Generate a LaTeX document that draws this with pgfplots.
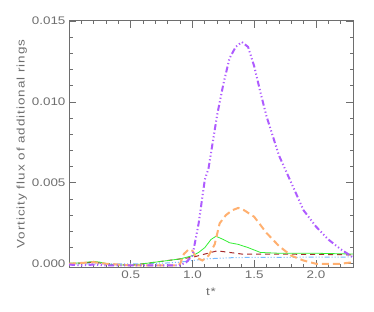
\documentclass[border=0pt]{standalone}
\usepackage{pgfplots}
\pgfplotsset{compat=1.18}
\usepackage{fontspec}
\setmainfont{Liberation Sans}[FakeStretch=1.22]
\definecolor{axgray}{HTML}{6E6E6E}
\definecolor{cpurple}{HTML}{AE5CFF}
\definecolor{corange}{HTML}{FFB070}
\definecolor{cgreen}{HTML}{33EE33}
\definecolor{cred}{HTML}{A52A2A}
\definecolor{cblue}{HTML}{77BBFF}
\begin{document}
\begin{tikzpicture}
\begin{axis}[
  scale only axis, width=284pt, height=246pt,
  xmin=0, xmax=2.3, ymin=-0.0002, ymax=0.015,
  axis line style={axgray, line width=1pt},
  every tick/.style={axgray, line width=0.8pt},
  tick align=inside,
  major tick length=7pt, minor tick length=3.5pt,
  xtick={0.5,1.0,1.5,2.0}, minor xtick={0.1,0.2,...,2.3},
  ytick={0,0.005,0.010,0.015}, minor ytick={0.001,0.002,0.003,0.004,0.006,0.007,0.008,0.009,0.011,0.012,0.013,0.014},
  scaled y ticks=false,
  xticklabel style={/pgf/number format/.cd, fixed, fixed zerofill, precision=1, assume math mode=true},
  yticklabel style={/pgf/number format/.cd, fixed, fixed zerofill, precision=3, assume math mode=true},
  tick label style={font=\fontsize{11}{13}\selectfont, text=axgray},
  label style={font=\fontsize{11}{13}\selectfont\addfontfeature{LetterSpace=9}, text=axgray},
  xlabel={t*}, ylabel={Vorticity flux of additional rings},
  xlabel style={yshift=-3pt},
  ylabel style={yshift=-2pt},
]
\addplot[cblue, line width=1pt, dash pattern=on 5pt off 2pt on 1pt off 2pt on 1pt off 2pt on 1pt off 2pt] coordinates {
(0,0.0) (0.3,0.0) (0.6,0.0) (0.8,0.00005) (0.9,0.0001) (1.0,0.0002) (1.1,0.0003) (1.3,0.00037) (1.5,0.0004) (1.8,0.0004) (2.3,0.00042)};
\addplot[cred, line width=1pt, dash pattern=on 5pt off 4pt] coordinates {
(0,0.0) (0.2,0.0001) (0.3,0.0) (0.5,-0.0001) (0.6,0.0) (0.7,0.0001) (0.8,0.0002) (0.9,0.0003) (1.0,0.0004) (1.1,0.0006) (1.2,0.0008) (1.3,0.0007) (1.4,0.0006) (1.6,0.0006) (2.0,0.00058) (2.3,0.00055)};
\addplot[cgreen, line width=0.8pt] coordinates {
(0,0.00005) (0.1,0.00005) (0.2,0.00015) (0.25,0.0001) (0.35,-0.00005) (0.5,-0.0001) (0.6,0.0) (0.7,0.0001) (0.8,0.0002) (0.9,0.0003) (1.0,0.0005) (1.05,0.0007) (1.1,0.001) (1.15,0.0015) (1.19,0.0017) (1.25,0.0015) (1.3,0.0013) (1.37,0.0012) (1.45,0.001) (1.55,0.0007) (1.7,0.00065) (2.0,0.00065) (2.3,0.0006)};
\addplot[corange, line width=2pt, dash pattern=on 7pt off 4pt] coordinates {
(0,0.0) (0.1,0.00005) (0.2,0.0001) (0.3,0.0) (0.5,-0.0001) (0.7,-0.0001) (0.88,-0.0001) (0.9,0.0) (0.93,0.0006) (0.97,0.0009) (1.0,0.0008) (1.03,0.0004) (1.08,0.0002) (1.13,0.0005) (1.18,0.0012) (1.22,0.0025) (1.27,0.0030) (1.32,0.0033) (1.37,0.00345) (1.42,0.0033) (1.5,0.0029) (1.6,0.0019) (1.7,0.0011) (1.8,0.0005) (1.9,0.0002) (2.0,0.0) (2.1,0.0) (2.2,0.0) (2.3,0.0001)};
\addplot[cpurple, line width=2pt, dash pattern=on 6pt off 2.5pt on 1.2pt off 2.5pt on 1.2pt off 2.5pt on 1.2pt off 2.5pt] coordinates {
(0,-0.00005) (0.1,-0.0001) (0.2,-0.00005) (0.3,-0.0001) (0.5,-0.0001) (0.7,-0.0001) (0.9,-0.0001) (0.95,0.0001) (1.0,0.0005) (1.05,0.0025) (1.1,0.0052) (1.13,0.0059) (1.2,0.0092) (1.25,0.0111) (1.3,0.0127) (1.35,0.0134) (1.4,0.0137) (1.45,0.0134) (1.5,0.0122) (1.55,0.0106) (1.6,0.0091) (1.7,0.0067) (1.8,0.0050) (1.9,0.0033) (2.0,0.0023) (2.1,0.0015) (2.2,0.0009) (2.28,0.0005) (2.3,0.0004)};
\end{axis}
\pgfresetboundingbox
\path (current axis.south west) ++(-69pt,-44pt) coordinate (bbA);
\path (current axis.north east) ++(21pt,21pt) coordinate (bbB);
\path[use as bounding box] (bbA) rectangle (bbB);
\end{tikzpicture}
\end{document}
